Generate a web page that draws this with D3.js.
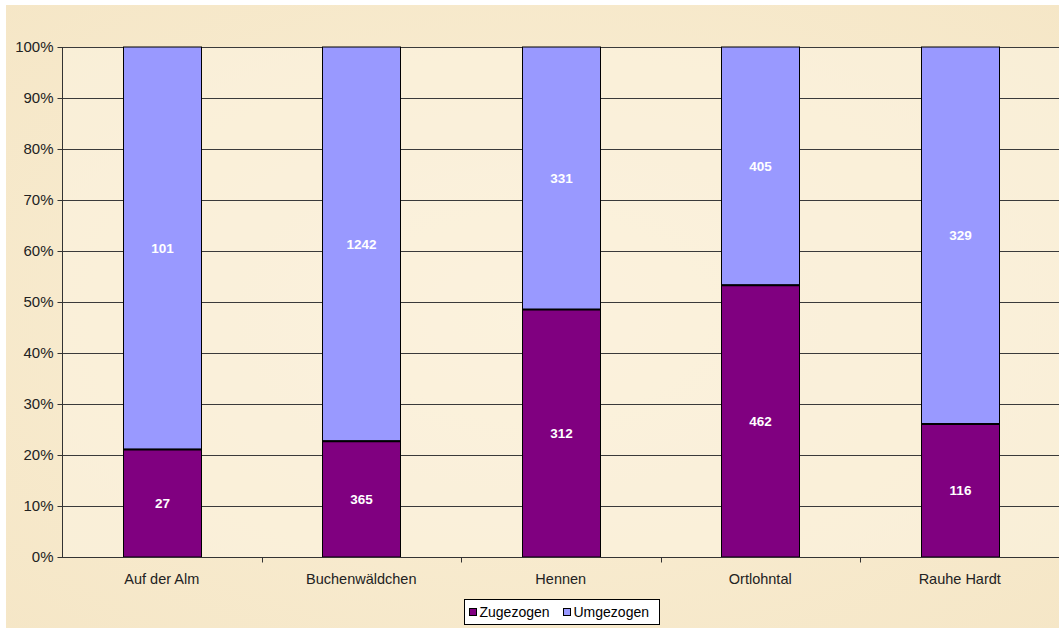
<!DOCTYPE html>
<html>
<head>
<meta charset="utf-8">
<script src="https://cdn.jsdelivr.net/npm/d3@7"></script>
<style>
  html, body { margin: 0; padding: 0; background: #ffffff; }
  svg { display: block; }
  text { font-family: "Liberation Sans", Arial, sans-serif; }
</style>
</head>
<body>
<svg id="chart" width="1059" height="628"></svg>
<script>
const categories = ["Auf der Alm", "Buchenwäldchen", "Hennen", "Ortlohntal", "Rauhe Hardt"];
const zugezogen = [27, 365, 312, 462, 116];
const umgezogen = [101, 1242, 331, 405, 329];
const seriesNames = ["Zugezogen", "Umgezogen"];
const seriesColors = ["#800080", "#9999FF"];
const yTicks = [0, 0.1, 0.2, 0.3, 0.4, 0.5, 0.6, 0.7, 0.8, 0.9, 1.0];

const svg = d3.select("#chart");
const W = 1059, H = 628;

const defs = svg.append("defs");
const rg = defs.append("radialGradient").attr("id", "parch").attr("cx", "50%").attr("cy", "50%").attr("r", "75%");
rg.append("stop").attr("offset", "0%").attr("stop-color", "#FAEFD6");
rg.append("stop").attr("offset", "100%").attr("stop-color", "#F5E6C6");
svg.append("rect").attr("x", 6).attr("y", 5).attr("width", W - 6).attr("height", H - 5).attr("fill", "url(#parch)");

const x0 = 62, x1 = 1059.5, y0 = 557, y1 = 47;

svg.append("rect").attr("x", x0).attr("y", y1).attr("width", x1 - x0).attr("height", y0 - y1).attr("fill", "#FCF4E1").attr("opacity", 0.6);

const x = d3.scaleBand().domain(categories).range([x0, x1]).paddingInner(0.61).paddingOuter(0.305);
const y = d3.scaleLinear().domain([0, 1]).range([y0, y1]);

svg.append("g").selectAll("line").data(yTicks.filter(d => d > 0)).join("line")
  .attr("x1", x0).attr("x2", x1).attr("y1", d => Math.round(y(d)) + 0.5).attr("y2", d => Math.round(y(d)) + 0.5)
  .attr("stroke", "#3a3a3a").attr("stroke-width", 1);

const data = categories.map((c, i) => {
  const tot = zugezogen[i] + umgezogen[i];
  return { cat: c, z: zugezogen[i], u: umgezogen[i], zp: zugezogen[i] / tot };
});

const bars = svg.append("g");
data.forEach(d => {
  const bx = Math.round(x(d.cat)) + 0.5, bw = Math.round(x.bandwidth());
  bars.append("rect").attr("x", bx).attr("y", y(1)).attr("width", bw).attr("height", y(d.zp) - y(1))
    .attr("fill", seriesColors[1]).attr("stroke", "#000").attr("stroke-width", 1);
  bars.append("rect").attr("x", bx).attr("y", y(d.zp)).attr("width", bw).attr("height", y(0) - y(d.zp))
    .attr("fill", seriesColors[0]).attr("stroke", "#000").attr("stroke-width", 1);
  bars.append("line").attr("x1", bx).attr("x2", bx + bw).attr("y1", y(d.zp)).attr("y2", y(d.zp))
    .attr("stroke", "#000").attr("stroke-width", 2);
  bars.append("text").attr("x", bx + bw / 2).attr("y", (y(d.zp) + y(0)) / 2).attr("dy", "0.35em")
    .attr("text-anchor", "middle").attr("fill", "#fff").attr("font-weight", "bold").attr("font-size", 13.5).text(d.z);
  bars.append("text").attr("x", bx + bw / 2).attr("y", (y(1) + y(d.zp)) / 2).attr("dy", "0.35em")
    .attr("text-anchor", "middle").attr("fill", "#fff").attr("font-weight", "bold").attr("font-size", 13.5).text(d.u);
});

const yAxis = d3.axisLeft(y).tickValues(yTicks).tickFormat(d3.format(".0%")).tickSize(5).tickPadding(4);
const gy = svg.append("g").attr("transform", `translate(${x0 + 0.5},0)`).call(yAxis);
gy.select(".domain").attr("stroke", "#333").attr("d", `M0,${y1}V${y0}`);
gy.selectAll(".tick line").attr("stroke", "#333");
gy.selectAll(".tick text").attr("font-size", 15).attr("fill", "#222").attr("font-family", "Liberation Sans, Arial, sans-serif");

const xAxis = d3.axisBottom(x).tickSize(0).tickPadding(16);
const gx = svg.append("g").attr("transform", `translate(0,${y0 + 0.5})`).call(xAxis);
gx.select(".domain").attr("stroke", "#333").attr("d", `M${x0},0H${x1}`);
gx.selectAll(".tick text").attr("font-size", 14.5).attr("fill", "#222").attr("font-family", "Liberation Sans, Arial, sans-serif");
const sepX = categories.slice(1).map(c => x(c) - x.step() * x.paddingInner() / 2);
gx.selectAll(".sep").data(sepX).join("line").attr("class", "sep")
  .attr("x1", d => Math.round(d) + 0.5).attr("x2", d => Math.round(d) + 0.5).attr("y1", 0).attr("y2", 5)
  .attr("stroke", "#333");

const lg = svg.append("g").attr("transform", "translate(464.5,599.5)");
lg.append("rect").attr("width", 195).attr("height", 25).attr("fill", "#fff").attr("stroke", "#000").attr("stroke-width", 1);
const items = [{ n: seriesNames[0], c: seriesColors[0], x: 5 }, { n: seriesNames[1], c: seriesColors[1], x: 99 }];
items.forEach(it => {
  lg.append("rect").attr("x", it.x).attr("y", 9).attr("width", 7).attr("height", 7).attr("fill", it.c).attr("stroke", "#000").attr("stroke-width", 1);
  lg.append("text").attr("x", it.x + 10).attr("y", 13).attr("dy", "0.35em").attr("font-size", 14).attr("fill", "#000").text(it.n);
});
</script>
</body>
</html>
